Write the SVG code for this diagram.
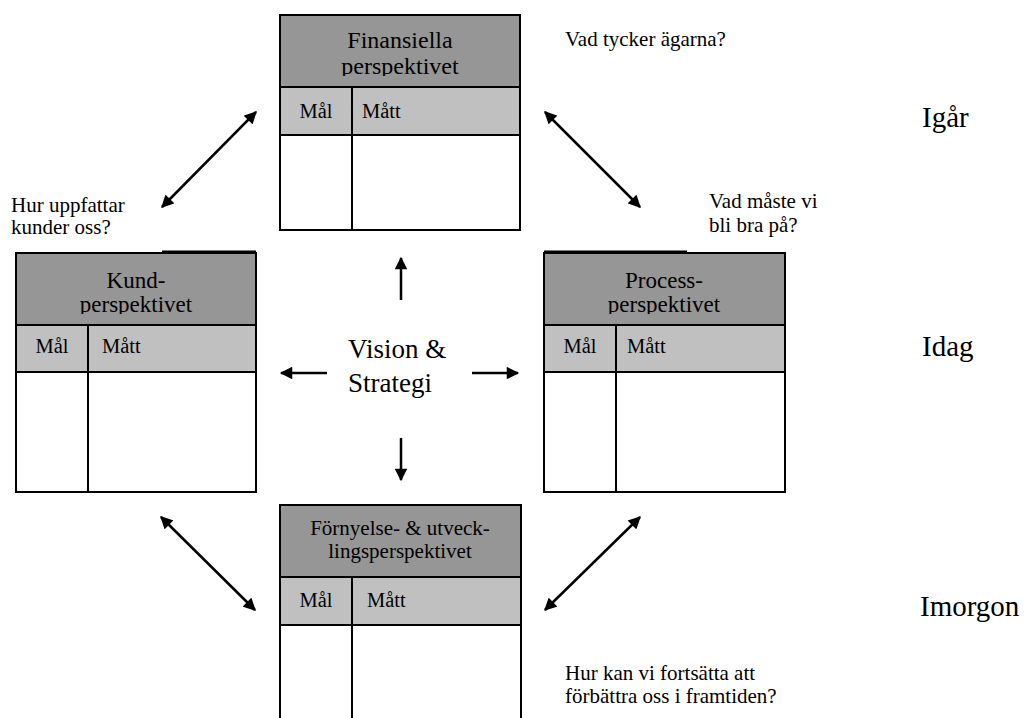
<svg xmlns="http://www.w3.org/2000/svg" width="1036" height="718" viewBox="0 0 1036 718" font-family="'Liberation Serif','Times New Roman',serif">
<defs>
<marker id="ah" viewBox="0 0 10 10" refX="9" refY="5" markerWidth="5.5" markerHeight="5" orient="auto-start-reverse" markerUnits="strokeWidth">
<path d="M0,0 L10,5 L0,10 Z" fill="#000"/>
</marker>
<clipPath id="cf"><rect x="280" y="15" width="240" height="61"/></clipPath>
<clipPath id="ck"><rect x="16" y="253" width="240" height="61"/></clipPath>
<clipPath id="cp"><rect x="544" y="253" width="241" height="61"/></clipPath>
<style>
text{font-family:"Liberation Serif","Times New Roman",serif;fill:#000}
.h{fill:#969696;stroke:#000;stroke-width:2}
.r{fill:#c0c0c0;stroke:#000;stroke-width:2}
.b{fill:#fff;stroke:#000;stroke-width:2}
.l{stroke:#000;stroke-width:2;fill:none}
.ht{font-size:23px;text-anchor:middle}
.ct{font-size:20.5px}
.cm{font-size:20.5px;text-anchor:middle}
.q{font-size:21px}
.big{font-size:27px}
.side{font-size:29px}
.c{stroke:#000;stroke-width:2.5;fill:none;marker-end:url(#ah)}
.d{stroke:#000;stroke-width:2.5;fill:none;marker-start:url(#ah);marker-end:url(#ah)}
</style>
</defs>
<rect width="1036" height="718" fill="#fff"/>

<g id="finansiella">
<rect class="b" x="280" y="15" width="240" height="215"/>
<rect class="h" x="280" y="15" width="240" height="72"/>
<rect class="r" x="280" y="87" width="240" height="48"/>
<line class="l" x1="352" y1="87" x2="352" y2="230"/>
<g clip-path="url(#cf)">
<text class="ht" x="400" y="48" style="font-size:24px">Finansiella</text>
<text class="ht" x="400" y="74" style="font-size:24px">perspektivet</text>
</g>
<text class="cm" x="316" y="118">Mål</text>
<text class="ct" x="362" y="118">Mått</text>
</g>

<g id="kund">
<rect class="b" x="16" y="253" width="240" height="239"/>
<rect class="h" x="16" y="253" width="240" height="72"/>
<rect class="r" x="16" y="325" width="240" height="47"/>
<line class="l" x1="88" y1="325" x2="88" y2="492"/>
<line class="l" x1="162" y1="251.5" x2="256" y2="251.5"/>
<g clip-path="url(#ck)">
<text class="ht" x="136" y="288">Kund-</text>
<text class="ht" x="136" y="312">perspektivet</text>
</g>
<text class="cm" x="52" y="353">Mål</text>
<text class="ct" x="102" y="353">Mått</text>
</g>

<g id="process">
<rect class="b" x="544" y="253" width="241" height="239"/>
<rect class="h" x="544" y="253" width="241" height="72"/>
<rect class="r" x="544" y="325" width="241" height="47"/>
<line class="l" x1="616" y1="325" x2="616" y2="492"/>
<line class="l" x1="544" y1="251.5" x2="687" y2="251.5"/>
<g clip-path="url(#cp)">
<text class="ht" x="664" y="288">Process-</text>
<text class="ht" x="664" y="312">perspektivet</text>
</g>
<text class="cm" x="580" y="353">Mål</text>
<text class="ct" x="627" y="353">Mått</text>
</g>

<g id="fornyelse">
<path class="b" d="M280,720 L280,505 L521,505 L521,720"/>
<rect class="h" x="280" y="505" width="241" height="72"/>
<rect class="r" x="280" y="577" width="241" height="48"/>
<line class="l" x1="352" y1="577" x2="352" y2="720"/>
<text class="ht" x="400" y="535" style="font-size:21px">Förnyelse- &amp; utveck-</text>
<text class="ht" x="400" y="558" style="font-size:21px">lingsperspektivet</text>
<text class="cm" x="316" y="607">Mål</text>
<text class="ct" x="367" y="607">Mått</text>
</g>

<g id="vision">
<text class="big" x="348" y="358">Vision &amp;</text>
<text class="big" x="348" y="392">Strategi</text>
</g>

<g id="labels">
<text class="q" x="565" y="46">Vad tycker ägarna?</text>
<text class="q" x="709" y="208">Vad måste vi</text>
<text class="q" x="709" y="232">bli bra på?</text>
<text class="q" x="11" y="212">Hur uppfattar</text>
<text class="q" x="11" y="234">kunder oss?</text>
<text class="q" x="565" y="680">Hur kan vi fortsätta att</text>
<text class="q" x="565" y="703">förbättra oss i framtiden?</text>
<text class="side" x="922" y="127">Igår</text>
<text class="side" x="922" y="356">Idag</text>
<text class="side" x="920" y="616">Imorgon</text>
</g>

<g id="connectors">
<line class="c" x1="401" y1="300" x2="401" y2="258"/>
<line class="c" x1="401" y1="438" x2="401" y2="480"/>
<line class="c" x1="327" y1="373" x2="281" y2="373"/>
<line class="c" x1="472" y1="373" x2="518" y2="373"/>
<line class="d" x1="162" y1="207" x2="256" y2="112"/>
<line class="d" x1="545" y1="112" x2="640" y2="207"/>
<line class="d" x1="161" y1="517" x2="255" y2="610"/>
<line class="d" x1="640" y1="517" x2="545" y2="610"/>
</g>
</svg>
